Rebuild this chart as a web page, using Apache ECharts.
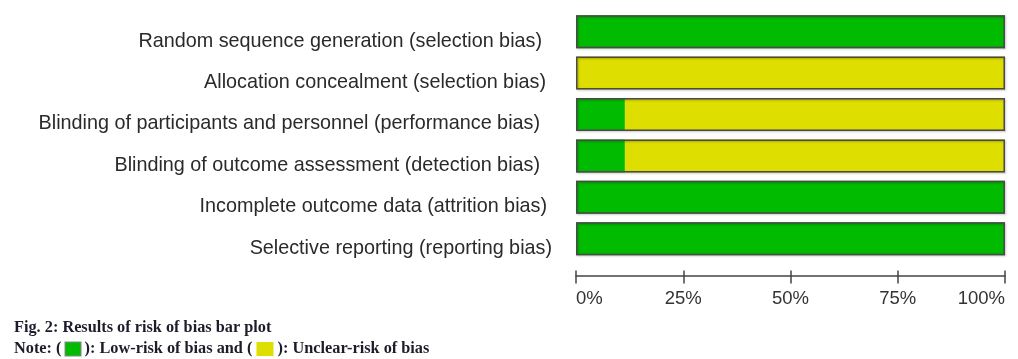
<!DOCTYPE html>
<html><head><meta charset="utf-8">
<script src="https://cdn.jsdelivr.net/npm/echarts@6/dist/echarts.min.js"></script>
<style>html,body{margin:0;padding:0;background:#fff}#c{width:1018px;height:359px}</style>
</head><body><div id="c"></div>
<script>
const categories = [
  'Random sequence generation (selection bias)',
  'Allocation concealment (selection bias)',
  'Blinding of participants and personnel (performance bias)',
  'Blinding of outcome assessment (detection bias)',
  'Incomplete outcome data (attrition bias)',
  'Selective reporting (reporting bias)'
];
const lowRisk = [100, 0, 11.4, 11.4, 100, 100];
const unclearRisk = [0, 100, 88.6, 88.6, 0, 0];
const tickValues = [0, 25, 50, 75, 100];
const GREEN = '#00bb00', YELLOW = '#dede00';
const total = lowRisk.map((v, i) => v + unclearRisk[i]);

// label styling (right padding to mimic the slightly ragged right edge)
const labelPadRight = [10, 6, 12, 12, 5, 0];

const chart = echarts.init(document.getElementById('c'));
const axisCommon = {
  type: 'value', min: 0, max: 100, interval: 25, position: 'bottom', offset: 16
};
chart.setOption({
  animation: false,
  grid: { left: 576, right: 13, top: 11, height: 248.4, containLabel: false },
  xAxis: [
    Object.assign({}, axisCommon, {
      axisLine: { show: true, lineStyle: { color: '#444', width: 1.5 } },
      axisTick: { show: true, length: 8, lineStyle: { color: '#444', width: 1.5 } },
      splitLine: { show: false },
      axisLabel: {
        formatter: v => v + '%', color: '#333', fontSize: 18.5, margin: 14,
        fontFamily: 'Liberation Sans, Arial, sans-serif',
        alignMinLabel: 'left', alignMaxLabel: 'right'
      }
    }),
    Object.assign({}, axisCommon, {
      axisLine: { show: false },
      axisTick: { show: true, inside: true, length: 5, lineStyle: { color: '#444', width: 1.5 } },
      splitLine: { show: false },
      axisLabel: { show: false }
    })
  ],
  yAxis: {
    type: 'category', inverse: true,
    data: categories.map((c, i) => ({ value: c,
      textStyle: { padding: [0, labelPadRight[i], 0, 0], verticalAlign: 'top', lineHeight: 19 } })),
    axisLine: { show: false }, axisTick: { show: false },
    axisLabel: { color: '#2a2a2a', fontSize: 19.8, margin: 24,
      fontFamily: 'Liberation Sans, Arial, sans-serif' }
  },
  series: [
    { name: 'Low risk', type: 'bar', stack: 'r', data: lowRisk, barWidth: 33,
      itemStyle: { color: GREEN } },
    { name: 'Unclear risk', type: 'bar', stack: 'r', data: unclearRisk, barWidth: 33,
      itemStyle: { color: YELLOW } },
    { name: 'frame', type: 'bar', data: total, barWidth: 33, barGap: '-100%', silent: true,
      itemStyle: { color: 'rgba(0,0,0,0)', borderColor: '#4a4a4a', borderWidth: 1.5,
        shadowColor: 'rgba(0,0,0,0.25)', shadowBlur: 2, shadowOffsetX: 1, shadowOffsetY: 1 } }
  ],
  graphic: [
    { type: 'text', left: 14, top: 320,
      style: { text: 'Fig. 2: Results of risk of bias bar plot', fill: '#1c1c2a',
        font: 'bold 16.3px "Liberation Serif", "Times New Roman", serif' } },
    { type: 'text', left: 14, top: 341,
      style: { text: 'Note: ( {g|} ): Low-risk of bias and ( {y|} ): Unclear-risk of bias', fill: '#1c1c2a',
        font: 'bold 16.3px "Liberation Serif", "Times New Roman", serif',
        rich: {
          g: { backgroundColor: GREEN, borderColor: '#888', borderWidth: 1, width: 15, height: 13 },
          y: { backgroundColor: YELLOW, width: 17, height: 14 }
        } } }
  ]
});
</script></body></html>
